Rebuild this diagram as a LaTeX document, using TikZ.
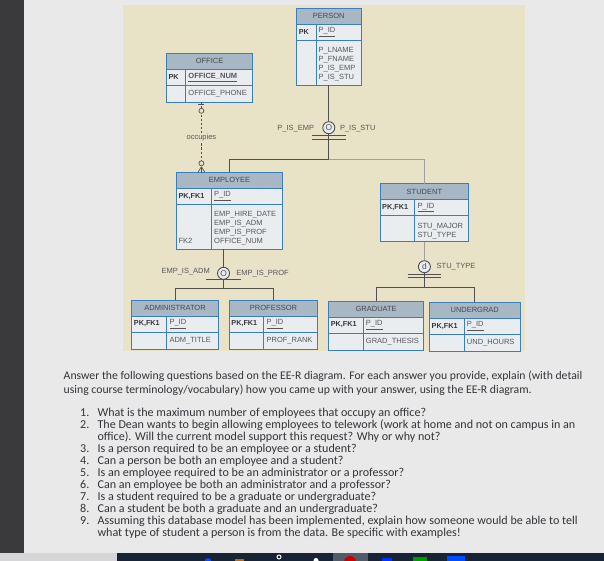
\documentclass[tikz,border=0pt]{standalone}
\usepackage{fontspec}
\setmainfont{Carlito}
\newfontfamily\erfont{Liberation Sans}
\usetikzlibrary{calc}

\definecolor{pagebg}{RGB}{233,233,234}
\definecolor{bezel}{RGB}{58,58,60}
\definecolor{floorgray}{RGB}{214,214,216}
\definecolor{taskbar}{RGB}{24,36,54}
\definecolor{beige}{RGB}{232,226,198}
\definecolor{headfill}{RGB}{168,183,196}
\definecolor{bodyfill}{RGB}{234,237,240}
\definecolor{entblue}{RGB}{59,125,190}
\definecolor{linegray}{RGB}{80,80,82}
\definecolor{titlegray}{RGB}{70,72,78}
\definecolor{attgray}{RGB}{85,86,92}
\definecolor{keygray}{RGB}{55,56,60}
\definecolor{bodytxt}{RGB}{52,52,58}

\def\upx{0.03cm}

% entity table: name, x, y, width, key column, attribute height, title, key label, key attribute
\newcommand{\entity}[9]{%
  \node[entbox, minimum width=#4*\upx, minimum height=(32+#6)*\upx] (#1) at (#2,#3) {};
  \node[enthead, minimum width=#4*\upx] (#1-h) at (#2,#3) {#7};
  \node[entkey, minimum width=#4*\upx] (#1-k) at (#1-h.south west) {};
  \draw[entline] (#1-h.south west) -- (#1-h.south east)
    (#1-k.south west) -- (#1-k.south east)
    ($(#1-k.north west)+(#5,0)$) -- ($(#1.south west)+(#5,0)$)
    (#1.north west) rectangle (#1.south east);
  \node[keylbl] at ($(#1-k.west)+(2,0)$) {#8};
  \node[keyatt] at ($(#1-k.west)+(#5+2.5,0)$) {#9};
  \coordinate (#1-a) at ($(#1-k.south west)+(#5+2.5,0)$);
}

\begin{document}
\begin{tikzpicture}[
    x=0.03cm, y=-0.03cm,
    font=\erfont\fontsize{6.4}{7.65}\selectfont,
    entbox/.style={rectangle, fill=bodyfill, anchor=north west, inner sep=0pt, outer sep=0pt},
    enthead/.style={rectangle, fill=headfill, anchor=north west, inner sep=0pt, outer sep=0pt,
      minimum height=16*\upx, text=titlegray},
    entkey/.style={rectangle, anchor=north west, inner sep=0pt, outer sep=0pt, minimum height=16*\upx},
    entline/.style={draw=entblue, line width=0.8pt},
    keylbl/.style={anchor=west, inner sep=0pt, text=keygray,
      font=\erfont\bfseries\fontsize{6.2}{7.65}\selectfont},
    keyatt/.style={anchor=west, inner sep=0pt, text=attgray},
    attrs/.style={anchor=north west, inner sep=0pt, align=left, text=attgray},
    attr1/.style={anchor=west, inner sep=0pt, text=attgray},
    reln/.style={draw=linegray, line width=0.6pt},
    faintln/.style={draw=linegray!55, line width=0.4pt},
    subsym/.style={circle, draw=linegray, line width=0.8pt, fill=bodyfill,
      minimum size=12*\upx, inner sep=0pt, text=linegray,
      font=\erfont\fontsize{7.2}{8}\selectfont},
    occmark/.style={circle, draw=linegray, line width=0.6pt, fill=beige,
      minimum size=5*\upx, inner sep=0pt},
    sublbl/.style={inner sep=0pt, text=attgray},
    bodytext/.style={font=\fontsize{10}{11.6}\selectfont, text=bodytxt, inner sep=0pt, align=left}
  ]
  \useasboundingbox (0,0) rectangle (604,561);

  % screen, page and diagram background
  \fill[pagebg] (0,0) rectangle (604,553);
  \fill[bezel] (0,0) rectangle (24,553);
  \fill[floorgray] (0,553) rectangle (604,561);
  \begin{scope}
    \clip (0,553) rectangle (604,561);
    \fill[taskbar] (117,553) rectangle (604,561);
    \fill[taskbar!75!white] (333,553) rectangle (368,561);
    \fill[blue!70!cyan] (208,561.5) circle (3.5);
    \fill[orange!80!black] (235,558.5) rectangle (244,561);
    \draw[white, line width=0.8pt] (279,557) circle (2);
    \fill[white] (316,560.5) circle (2.5);
    \fill[red!80!black] (350,562) circle (6);
    \fill[blue!80!cyan] (382,557.5) rectangle (392,561);
    \fill[green!60!black] (413,557) rectangle (427,561);
    \fill[blue!70!cyan] (447,556) rectangle (465,561);
  \end{scope}
  \fill[beige] (122.5,5) rectangle (524.7,351);

  % entities
  \entity{person}{296.6}{8.3}{64.4}{19.4}{45}{PERSON}{PK}{\underline{P\_ID}}
  \node[attrs] at ($(person-a)+(0,7)$) {P\_LNAME\\P\_FNAME\\P\_IS\_EMP\\P\_IS\_STU};

  \entity{office}{166.4}{53.3}{86.3}{19.3}{17}{OFFICE}{PK}{\textbf{\underline{OFFICE\_NUM}}}
  \node[attr1] at ($(office-a)+(0,8.5)$) {OFFICE\_PHONE};

  \entity{employee}{176.4}{172.3}{106.3}{35.1}{45}{EMPLOYEE}{PK,FK1}{\underline{P\_ID}}
  \node[attrs] at ($(employee-a)+(0,7)$) {EMP\_HIRE\_DATE\\EMP\_IS\_ADM\\EMP\_IS\_PROF\\OFFICE\_NUM};
  \node[attr1] at ($(employee-k.south west)+(2,36.7)$) {FK2};

  \entity{student}{380}{183.7}{88.8}{34.9}{26}{STUDENT}{PK,FK1}{\underline{P\_ID}}
  \node[attrs] at ($(student-a)+(0,7)$) {STU\_MAJOR\\STU\_TYPE};

  \entity{admin}{131.7}{300}{86.7}{35.1}{17}{ADMINISTRATOR}{PK,FK1}{\underline{P\_ID}}
  \node[attr1] at ($(admin-a)+(0,8.5)$) {ADM\_TITLE};
  \entity{prof}{229.2}{300}{88.6}{34.7}{17}{PROFESSOR}{PK,FK1}{\underline{P\_ID}}
  \node[attr1] at ($(prof-a)+(0,8.5)$) {PROF\_RANK};
  \entity{grad}{328.6}{301}{95.1}{34.6}{17}{GRADUATE}{PK,FK1}{\underline{P\_ID}}
  \node[attr1] at ($(grad-a)+(0,8.5)$) {GRAD\_THESIS};
  \entity{under}{429.5}{302.3}{90.5}{34.7}{17}{UNDERGRAD}{PK,FK1}{\underline{P\_ID}}
  \node[attr1] at ($(under-a)+(0,8.5)$) {UND\_HOURS};

  % person subtypes
  \node[subsym] (pcirc) at ($(person.south)+(0,42.4)$) {O};
  \coordinate (pjoin) at ($(person.south)+(0,74)$);
  \draw[reln] (person.south) -- (pcirc.north);
  \draw[reln] (pcirc.south) -- (pjoin);
  \draw[reln] (employee.north) |- (pjoin);
  \draw[faintln] (pjoin) -| (student.north);
  \draw[reln] ($(pcirc.south)+(-17,1.3)$) -- +(34,0)
    ($(pcirc.south)+(-17,5.3)$) -- +(34,0);
  \node[sublbl, anchor=east] at ($(pcirc.west)+(-8,0.5)$) {P\_IS\_EMP};
  \node[sublbl, anchor=west] at ($(pcirc.east)+(4.5,0.5)$) {P\_IS\_STU};

  % employee subtypes
  \node[subsym] (ecirc) at ($(employee.south)+(-6,24)$) {O};
  \coordinate (ejoin) at ($(ecirc)+(0,15.4)$);
  \draw[reln] (ecirc.north) -- (ecirc.north |- employee.south);
  \draw[reln] (ecirc.south) -- (ejoin);
  \draw[reln] (admin.north) |- (ejoin) -| (prof.north);
  \draw[reln] ($(ecirc.south)+(-17.3,0)$) -- +(34.7,0);
  \node[sublbl, anchor=east] at ($(ecirc.west)+(-7,-1.5)$) {EMP\_IS\_ADM};
  \node[sublbl, anchor=west] at ($(ecirc.east)+(6,0)$) {EMP\_IS\_PROF};

  % student subtypes
  \node[subsym] (scirc) at ($(student.south)+(0,25)$) {d};
  \coordinate (sjoin) at ($(scirc)+(0,20.6)$);
  \draw[faintln] (student.south) -- (scirc.north);
  \draw[reln] (scirc.south) -- (sjoin);
  \draw[reln] (grad.north) |- (sjoin) -| (under.north);
  \draw[reln] ($(scirc.south)+(-16.7,1.3)$) -- +(33.4,0)
    ($(scirc.south)+(-16.7,4.6)$) -- +(33.4,0);
  \node[sublbl, anchor=west] at ($(scirc.east)+(5.6,0)$) {STU\_TYPE};

  % occupies relationship
  \coordinate (occtop) at ($(office.south west)+(35,0)$);
  \coordinate (occbot) at (occtop |- employee.north);
  \draw[reln, dash pattern=on 2pt off 1.5pt] (occtop) -- (occbot);
  \draw[reln] ($(occtop)+(-3,2.5)$) -- +(6,0);
  \node[occmark] at ($(occtop)+(0,8.5)$) {};
  \node[occmark] at ($(occbot)+(0,-9)$) {};
  \draw[reln] ($(occbot)+(0,-5.5)$) -- ($(occbot)+(-3.5,0)$)
    ($(occbot)+(0,-5.5)$) -- (occbot)
    ($(occbot)+(0,-5.5)$) -- ($(occbot)+(3.5,0)$);
  \node[sublbl, fill=beige, inner sep=1pt] at ($(occtop)!0.5!(occbot)$) {occupies};

  % questions
  \node[bodytext, anchor=north west] (intro) at (63.5,371) {Answer the following questions based on the EE-R diagram. For each answer you provide, explain (with detail\\using course terminology/vocabulary) how you came up with your answer, using the EE-R diagram.};
  \node[bodytext, anchor=north west] (questions) at (80,407.5) {\fontsize{10.3}{10.2}\selectfont
    \begin{tabular}{@{}r@{\hspace{7pt}}l@{}}
      1. & What is the maximum number of employees that occupy an office?\\
      2. & The Dean wants to begin allowing employees to telework (work at home and not on campus in an\\
         & office). Will the current model support this request? Why or why not?\\
      3. & Is a person required to be an employee or a student?\\
      4. & Can a person be both an employee and a student?\\
      5. & Is an employee required to be an administrator or a professor?\\
      6. & Can an employee be both an administrator and a professor?\\
      7. & Is a student required to be a graduate or undergraduate?\\
      8. & Can a student be both a graduate and an undergraduate?\\
      9. & Assuming this database model has been implemented, explain how someone would be able to tell\\
         & what type of student a person is from the data. Be specific with examples!
    \end{tabular}};
\end{tikzpicture}
\end{document}
